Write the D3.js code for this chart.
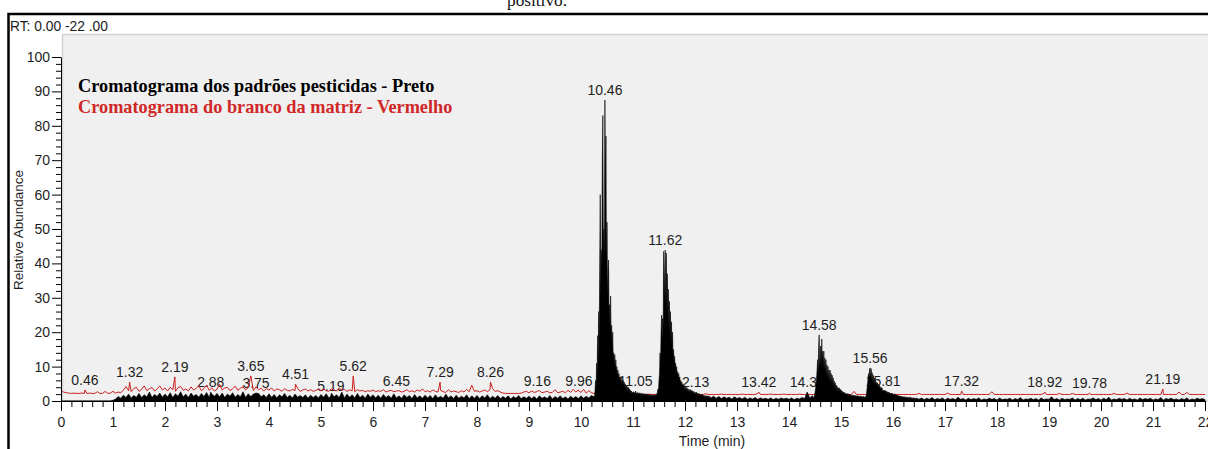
<!DOCTYPE html>
<html>
<head>
<meta charset="utf-8">
<script src="https://cdnjs.cloudflare.com/ajax/libs/d3/7.8.5/d3.min.js"></script>
<style>
  html, body { margin: 0; padding: 0; background: #fff; overflow: hidden; }
  svg { display: block; }
</style>
</head>
<body>
<svg id="chart" width="1208" height="449"></svg>
<script>
// ---- Total ion chromatograms, RT 0.00 - 22.00 min (relative abundance, %) ----

// Pesticide standards (black trace), sampled segments
const stdLead = [ // 0.00 - 10.25 min, every 0.05 min
  0,0,0,0,0,0,0,0,0,0,0,0,0,0,0,0,0,0,0,0,0.2,
  0.6,1.3,0.8,1.7,1.0,2.0,0.9,1.6,1.1,2.2,1.0,1.8,1.2,2.6,1.0,1.9,1.3,2.3,1.1,2.0,
  1.2,2.4,1.0,2.1,1.4,2.7,1.2,2.0,1.0,2.3,1.4,1.9,1.1,2.2,1.3,2.5,1.0,2.0,1.4,2.2,
  1.2,2.3,1.0,2.0,1.4,2.4,1.1,1.9,1.2,2.7,1.0,2.1,1.3,2.0,0.9,2.2,1.2,1.8,1.0,2.1,
  1.1,1.9,0.9,1.8,1.2,2.2,1.0,1.7,0.9,2.0,1.1,1.6,1.0,1.8,0.8,1.7,1.0,1.6,0.9,1.9,
  1.1,2.1,0.9,2.3,1.2,1.8,1.0,2.6,0.9,2.0,1.1,1.8,0.9,2.2,1.0,1.7,0.8,2.0,1.1,1.8,
  0.9,1.7,0.8,1.9,1.0,1.6,0.8,2.1,0.9,1.5,0.8,1.8,1.0,1.6,0.7,1.9,0.9,1.5,0.8,1.7,
  0.9,1.6,0.7,1.8,0.9,1.4,0.8,2.0,0.9,1.5,0.7,1.7,0.8,1.4,0.9,1.8,0.7,1.5,0.8,1.6,
  0.7,1.5,0.9,1.8,0.7,1.4,0.8,1.6,0.7,1.3,0.8,1.5,0.6,1.3,0.8,1.6,0.7,1.2,0.8,1.4,
  0.7,1.3,0.6,1.5,0.8,1.2,0.7,1.6,0.6,1.3,0.8,1.5,0.7,1.2,0.6,1.4,0.8,1.3,0.7,1.5,
  0.8,1.4,0.9,1.6,1.2
];
const stdPeakA = [ // 10.26 - 11.44 min, every 0.01 min
  1.5,3,6,4,11,7,19,12,26,18,
  40,60,30,44,38,70,83,42,50,40,
  87.5,60,77,36,52,30,38,41,24,28,
  20,30.5,18,22,14,20,12,14,10,13.5,
  9,12,8,10,7,9,6.5,8,6,7,
  5.5,7,5,6,4.5,6,4,5.5,3.8,5,
  3.5,4.5,3.2,4.2,3,4,2.8,3.6,2.6,3.2,
  2,2.9,2.1,2.6,1.9,2.7,2,2.5,1.8,2.6,
  1.9,2.4,1.7,2.5,1.8,2.3,1.7,2.4,1.6,2.2,
  1.7,2.3,1.6,2.1,1.5,2.2,1.6,2,1.5,2.1,
  1.4,2,1.5,1.9,1.4,2,1.3,1.8,1.4,1.9,
  1.3,1.8,1.4,1.7,1.3,1.9,1.4,1.8,1.5
];
const stdPeakB = [ // 11.45 - 12.49 min, every 0.01 min
  1.6,2.2,2.5,3.5,3,6,8,14,11,20,
  25,18,24,22,43.5,30,38,43.9,28,43,
  26,37,25,32.5,22,29,20,26,18,23,
  16,20,13,15,11,13,10,11,8.5,10,
  7.5,8.5,6.5,8,6,7,5,6,4.5,5.5,
  4,5,3.5,4.5,3.5,4,3.2,4.2,3,3.8,
  2.8,3.5,2.7,3.3,2.5,3.4,2.4,3.1,2.3,3,
  2.2,2.8,2,2.7,1.9,2.5,1.8,2.6,1.7,2.3,
  1.6,2.2,1.5,2.1,1.4,2,1.5,1.9,1.3,1.8,
  1.2,1.7,1.1,1.6,1.2,1.5,1,1.6,1.1,1.4,
  1,1.5,0.9,1.3,1
];
const stdMid = [ // 12.50 - 14.45 min, every 0.05 min
  0.9,1.4,0.8,1.3,0.7,1.2,0.8,1.1,0.6,1.2,
  0.7,1.0,0.6,1.1,0.5,0.9,0.6,1.0,0.5,0.9,
  0.6,0.8,0.5,0.9,0.4,0.8,0.5,0.9,0.6,0.8,
  0.5,0.9,0.4,0.8,0.6,1.0,0.7,1.4,0.9,1.6
];
const stdPeakC = [ // 14.46 - 15.45 min, every 0.01 min
  0.8,1.2,1.0,1.6,2.4,3.5,5,6.5,9,12,
  8,15.5,19.2,10,12,16,9.5,18,11,14.5,
  9,14.5,8.5,12.5,8,12,7,10.5,6.5,10,
  6,9,5.5,9,5,8,5,7.5,4.5,6.7,
  4,5.8,3.8,5.3,3.5,4.6,3.2,4.2,3,3.8,
  2.8,3.8,2.6,3.4,2.4,3.1,2.2,2.8,2.1,2.6,
  1.9,2.5,1.8,2.3,1.7,2.1,1.6,2.2,1.5,2,
  1.4,1.9,1.5,1.8,1.3,1.7,1.4,1.8,1.2,1.6,
  1.3,1.7,1.2,1.5,1.1,1.6,1.2,1.5,1,1.4,
  1.1,1.5,1,1.4,0.9,1.3,1,1.4,0.9,1.2
];
const stdPeakD = [ // 15.46 - 16.45 min, every 0.01 min
  0.9,1.3,1.1,2,3.5,5,6.5,8,6,9.2,
  9.6,6.5,9.4,6,8.2,5.5,7.5,5,6.7,4.8,
  6,4.5,5.5,4.2,5.3,4,4.8,3.8,4.5,4.2,
  3.5,4,3.3,3.8,3,3,2.9,3.2,2.7,3.1,
  2.5,2.9,2.3,2.7,2.2,2.6,2.1,2.5,2,2.3,
  1.9,2.3,1.8,2.2,1.7,2,1.6,2.1,1.5,1.9,
  1.4,1.8,1.3,1.7,1.2,1.6,1.1,1.5,1.2,1.4,
  1,1.4,0.9,1.3,1,1.2,0.8,1.3,0.9,1.1,
  0.8,1.2,0.7,1.1,0.8,1,0.7,1.2,0.6,1,
  0.7,0.9,0.6,1,0.5,0.9,0.6,0.8,0.5,0.9
];
const stdTail = [ // 16.50 - 22.00 min, every 0.05 min
  0.5,0.9,0.4,0.8,0.5,1.0,0.4,0.7,0.5,0.9,0.3,0.8,0.5,0.7,0.4,1.1,0.5,0.7,0.3,0.8,
  0.4,0.7,0.5,0.9,0.3,0.6,0.4,0.8,0.5,0.7,0.3,0.9,0.4,0.6,0.5,0.8,0.3,0.7,0.4,1.0,
  0.3,0.6,0.5,0.8,0.4,0.7,0.3,0.9,0.4,0.6,0.5,1.2,0.4,0.7,0.3,0.8,0.4,0.6,0.5,0.9,
  0.3,0.7,0.4,0.8,0.3,0.6,0.5,0.9,0.4,0.7,0.3,0.8,0.4,1.1,0.3,0.6,0.4,0.8,0.5,0.7,
  0.3,0.8,0.4,0.6,0.3,0.9,0.4,0.7,0.5,0.8,0.3,0.6,0.4,1.0,0.3,0.7,0.5,0.8,0.4,0.6,
  0.3,0.7,0.4,0.9,0.3,0.6,0.4,0.8,0.5,0.7,0.4
];

// Matrix blank (red trace), 0.00 - 22.00 min, every 0.05 min
const blankValues = [
  2.9,2.6,2.4,2.3,2.2,2.3,2.2,2.2,2.3,2.2, 2.2,2.3,2.2,2.2,2.7,2.2,2.2,2.8,2.2,2.3,
  2.8,2.3,2.6,2.4,3.2,4.2,3.0,2.7,3.6,4.0, 2.8,3.4,4.4,3.0,3.6,3.9,2.9,3.5,4.4,3.2,
  3.8,2.9,4.0,3.3,2.8,3.9,4.2,3.1,3.5,2.9, 4.1,3.2,3.7,4.4,3.0,3.6,4.6,3.1,3.8,2.9,
  3.4,4.9,3.2,3.8,4.0,3.0,3.6,4.3,3.1,3.7, 4.1,3.2,3.9,3.4,3.0,4.1,3.3,3.7,2.9,3.6,
  3.2,3.8,2.9,3.5,3.3,2.8,3.6,3.1,2.9,3.4, 3.0,3.7,2.8,3.2,3.5,2.9,3.3,2.8,3.1,3.4,
  2.9,3.5,3.0,2.8,3.6,3.2,2.9,3.8,3.1,3.4, 2.8,3.2,3.0,2.7,3.3,2.9,3.1,2.7,3.0,2.8,
  3.2,2.7,3.0,2.8,3.3,2.6,2.9,3.1,2.7,2.9, 3.0,2.6,2.8,3.3,2.7,3.0,2.6,3.2,2.8,3.5,
  2.7,3.0,2.6,3.2,2.8,2.6,3.1,2.7,2.5,3.3, 2.6,2.9,2.7,2.5,3.0,2.6,3.4,2.7,4.6,2.8,
  3.0,2.6,2.9,3.2,2.7,3.3,3.6,2.8,3.0,2.6, 2.3,2.2,2.2,2.2,2.2,2.2,2.2,2.3,2.6,2.8,
  2.4,2.9,2.5,2.7,3.0,2.4,2.6,2.8,2.4,2.5, 3.3,2.4,2.6,2.8,2.4,3.1,2.5,3.4,2.6,3.2,
  2.5,3.4,2.3,3.0,2.4,2.2,2.1,2.0,2.0,1.9, 1.9,1.9,2.0,1.9,1.9,1.9,2.0,1.9,1.9,1.9,
  1.9,2.0,1.9,1.9,1.9,1.9,2.0,1.9,1.9,1.9, 1.9,1.9,2.0,1.9,1.9,1.9,1.9,2.0,1.9,1.9,
  1.9,1.9,1.9,2.0,1.9,1.9,1.9,1.9,2.1,1.9, 1.9,1.9,1.9,1.9,2.0,1.9,1.9,1.9,1.9,1.9,
  1.9,1.9,2.0,1.9,1.9,1.9,1.9,1.9,2.2,1.9, 1.9,1.9,1.9,2.0,1.9,1.9,1.9,1.9,2.0,1.9,
  1.9,1.9,1.9,1.9,2.0,1.9,1.9,1.9,1.9,1.9, 1.9,1.9,1.9,1.9,1.9,1.9,1.9,1.9,1.9,1.9,
  1.9,1.9,1.9,1.9,1.9,2.8,1.9,1.9,1.9,1.9, 1.9,1.9,1.9,1.9,1.9,1.9,2.0,1.9,1.9,1.9,
  1.9,1.9,1.9,1.9,1.9,1.9,1.9,1.9,1.9,1.9, 2.2,1.9,1.9,1.9,1.9,1.9,1.9,1.9,1.9,1.9,
  1.9,2.3,1.9,1.9,1.9,1.9,1.9,1.9,1.9,1.9, 1.9,1.9,1.9,1.9,1.9,1.9,1.9,1.9,2.7,1.9,
  1.9,1.9,1.9,1.9,1.9,1.9,1.9,1.9,1.9,1.9, 1.9,1.9,1.9,1.9,1.9,1.9,1.9,1.9,2.2,1.9,
  1.9,1.9,1.9,1.9,2.2,1.9,1.9,1.9,1.9,2.2, 1.9,1.9,1.9,1.9,1.9,1.9,1.9,1.9,1.9,1.9,
  1.9,1.9,1.9,1.9,1.9,2.2,1.9,1.9,1.9,1.9, 2.3,1.9,1.9,1.9,1.9,1.9,1.9,1.9,1.9,1.9,
  1.9,1.9,1.9,1.9,1.9,1.9,1.9,1.9,1.9,1.9, 2.6,1.9,1.9,2.5,1.9,1.9,1.9,1.9,1.9,1.9,
  1.9
];

// Labelled peaks: retention time, apex abundance, trace it belongs to
const peakRT     = ["0.46","1.32","2.19","2.88","3.65","3.75","4.51","5.19","5.62","6.45","7.29","8.26","9.16","9.96",
                    "10.46","11.05","11.62","12.13","13.42","14.35","14.58","15.56","15.81","17.32","18.92","19.78","21.19"];
const peakHeight = [3.2,5.5,7.0,2.6,7.3,2.3,4.9,1.5,7.3,2.9,5.5,5.5,2.9,2.9,
                    87.5,2.9,43.9,2.6,2.6,2.6,19.2,9.6,3.0,2.9,2.6,2.3,3.5];
const peakTrace  = ["blank","blank","blank","std","blank","std","blank","std","blank","blank","blank","blank","blank","blank",
                    "std","std","std","std","blank","std","std","std","std","blank","blank","blank","blank"];

const xTicks = d3.range(0, 23);          // minutes
const yTicks = d3.range(0, 101, 10);     // relative abundance
const legendLines = ["Cromatograma dos padrões pesticidas - Preto", "Cromatograma do branco da matriz - Vermelho"];

// ---- assemble the series ----
function fromSegments(segs) {
  const m = new Map();
  segs.forEach(s => s.values.forEach((v, i) => {
    const t = +(s.start + i * s.step).toFixed(2);
    m.set(t.toFixed(2), { t, v });
  }));
  return m;
}
const stdMap = fromSegments([
  { start: 0.00,  step: 0.05, values: stdLead },
  { start: 10.26, step: 0.01, values: stdPeakA },
  { start: 11.45, step: 0.01, values: stdPeakB },
  { start: 12.50, step: 0.05, values: stdMid },
  { start: 14.46, step: 0.01, values: stdPeakC },
  { start: 15.46, step: 0.01, values: stdPeakD },
  { start: 16.50, step: 0.05, values: stdTail }
]);
const blankMap = fromSegments([{ start: 0, step: 0.05, values: blankValues }]);
peakRT.forEach((rt, i) => {
  const m = peakTrace[i] === "std" ? stdMap : blankMap;
  m.set(rt, { t: +rt, v: peakHeight[i] });
});
const stdSeries = Array.from(stdMap.values()).sort((a, b) => a.t - b.t);
const blankSeries = Array.from(blankMap.values()).sort((a, b) => a.t - b.t);

// ---- drawing ----
const svg = d3.select("#chart");
const x = d3.scaleLinear().domain([0, 22]).range([61, 1205]);
const y = d3.scaleLinear().domain([0, 100]).range([401, 57]);
const SANS = '"Liberation Sans", Arial, sans-serif';
const SERIF = '"Liberation Serif", "Times New Roman", serif';

// page fragment above the figure
svg.append("text").attr("x", 507).attr("y", 6)
  .attr("font-family", SERIF).attr("font-size", 17.3).attr("fill", "#111")
  .text("positivo.");

// figure frame
svg.append("path").attr("d", "M8.5,449V14H1208")
  .attr("fill", "none").attr("stroke", "#000").attr("stroke-width", 2.5);

// plot panel
svg.append("rect").attr("x", 62.5).attr("y", 34.5).attr("width", 1150).attr("height", 366.5)
  .attr("fill", "#f0f0f0").attr("stroke", "#d2d2d2").attr("stroke-width", 1.5);

svg.append("text").attr("x", 10).attr("y", 31)
  .attr("font-family", SANS).attr("font-size", 13.8).attr("fill", "#1a1a1a")
  .text("RT: 0.00 -22 .00");

// peak labels (drawn beneath the traces)
svg.append("g").selectAll("text").data(peakRT).join("text")
  .attr("x", d => x(+d))
  .attr("y", (d, i) => y(peakHeight[i]) - 5)
  .attr("text-anchor", "middle")
  .attr("font-family", SANS).attr("font-size", 14).attr("fill", "#1e1e1e")
  .text(d => d);

// blank as a plain trace, standards as a filled profile on top
const line = d3.line().x(d => x(d.t)).y(d => y(d.v));
const area = d3.area().x(d => x(d.t)).y0(y(0)).y1(d => y(d.v));
svg.append("path").datum(blankSeries).attr("d", line)
  .attr("fill", "none").attr("stroke", "#cc1f1f").attr("stroke-width", 1);
svg.append("path").datum(stdSeries).attr("d", area)
  .attr("fill", "#000").attr("stroke", "#000").attr("stroke-width", 0.6);

// axes
function styleAxis(g) {
  g.attr("font-family", SANS).attr("font-size", 14);
  g.selectAll("text").attr("fill", "#1e1e1e");
  g.selectAll("line, path").attr("stroke", "#000");
}
const xMinor = d3.range(0, 111).filter(i => i % 5).map(i => i / 5);
const yMinor = d3.range(0, 51).filter(i => i % 5).map(i => i * 2);

svg.append("g").attr("transform", "translate(0,401)")
  .call(d3.axisBottom(x).tickValues(xMinor).tickSize(6).tickFormat(""))
  .call(g => g.select(".domain").remove())
  .call(styleAxis);
svg.append("g").attr("transform", "translate(0,401)")
  .call(d3.axisBottom(x).tickValues(xTicks).tickSize(10).tickSizeOuter(0).tickPadding(6).tickFormat(d3.format("d")))
  .call(styleAxis);

svg.append("g").attr("transform", "translate(61,0)")
  .call(d3.axisLeft(y).tickValues(yMinor).tickSize(5).tickFormat(""))
  .call(g => g.select(".domain").remove())
  .call(styleAxis);
svg.append("g").attr("transform", "translate(61,0)")
  .call(d3.axisLeft(y).tickValues(yTicks).tickSize(9).tickSizeOuter(0).tickPadding(2))
  .call(styleAxis);

// axis titles
svg.append("text").attr("x", 712).attr("y", 445.5).attr("text-anchor", "middle")
  .attr("font-family", SANS).attr("font-size", 14).attr("fill", "#1e1e1e")
  .text("Time (min)");
svg.append("text").attr("transform", "translate(23,230) rotate(-90)").attr("text-anchor", "middle")
  .attr("font-family", SANS).attr("font-size", 13.5).attr("fill", "#1e1e1e")
  .text("Relative Abundance");

// legend
svg.append("g").selectAll("text").data(legendLines).join("text")
  .attr("x", 78).attr("y", (d, i) => 92 + i * 21)
  .attr("font-family", SERIF).attr("font-weight", "bold").attr("font-size", 18.3)
  .attr("fill", (d, i) => i === 0 ? "#000" : "#d02828")
  .text(d => d);
</script>
</body>
</html>
